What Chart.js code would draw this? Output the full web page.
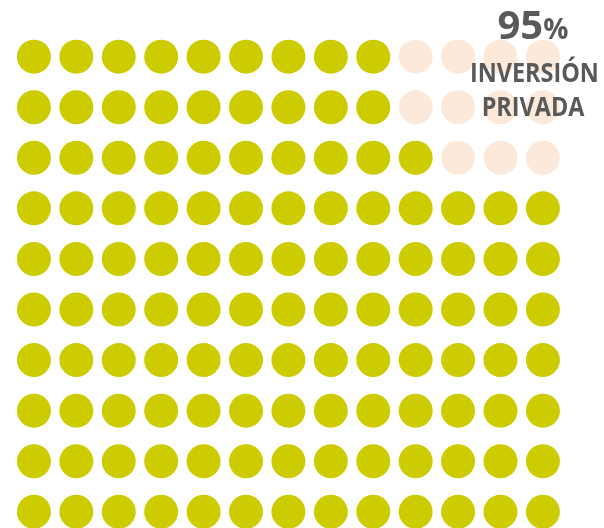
<!DOCTYPE html>
<html>
<head>
<meta charset="utf-8">
<script src="https://cdn.jsdelivr.net/npm/chart.js@4/dist/chart.umd.min.js"></script>
<style>
  html, body { margin: 0; padding: 0; background: #fff; }
  #wrap { position: relative; width: 604px; height: 528px; overflow: hidden; }
  .lbl {
    position: absolute; left: 463px; width: 140px;
    text-align: center; color: #595959; font-family: "Open Sans", sans-serif;
    font-weight: bold; line-height: 1; white-space: nowrap;
  }
  #pct { top: 4px; font-size: 40px; }
  #pct small { font-size: 28px; }
  #l1, #l2 { font-size: 26px; transform: scaleX(0.9); transform-origin: 70px 0; }
  #l1 { top: 59px; }
  #l2 { top: 93px; }
</style>
</head>
<body>
<div id="wrap">
  <canvas id="dots" width="604" height="528"></canvas>
  <div class="lbl" id="pct">95<small>%</small></div>
  <div class="lbl" id="l1">INVERSIÓN</div>
  <div class="lbl" id="l2">PRIVADA</div>
</div>
<script>
// grid: 13 dots per row, 10 rows; filled (yellow) dots counted per row from the left
const columns = 13;
const rowCount = 10;
const filledPerRow = [9, 9, 10, 13, 13, 13, 13, 13, 13, 13];
const filledColor = '#CCCC00';
const emptyColor = '#FDE9D9';

function buildPoints(filled) {
  const pts = [];
  filledPerRow.forEach((n, r) => {
    for (let c = 0; c < columns; c++) {
      if ((c < n) === filled) pts.push({ x: c, y: r });
    }
  });
  return pts;
}

const ctx = document.getElementById('dots').getContext('2d');
new Chart(ctx, {
  type: 'scatter',
  data: {
    datasets: [
      { label: 'Privada', data: buildPoints(true), backgroundColor: filledColor, borderWidth: 0, pointRadius: 17, pointHoverRadius: 17 },
      { label: 'Resto', data: buildPoints(false), backgroundColor: emptyColor, borderWidth: 0, pointRadius: 17, pointHoverRadius: 17 }
    ]
  },
  options: {
    responsive: false,
    animation: false,
    layout: { padding: 0, autoPadding: false },
    plugins: { legend: { display: false }, tooltip: { enabled: false } },
    scales: {
      x: { type: 'linear', display: false, min: -0.80, max: 13.44 },
      y: { type: 'linear', display: false, reverse: true, min: -1.12, max: 9.32 }
    }
  }
});
</script>
</body>
</html>
